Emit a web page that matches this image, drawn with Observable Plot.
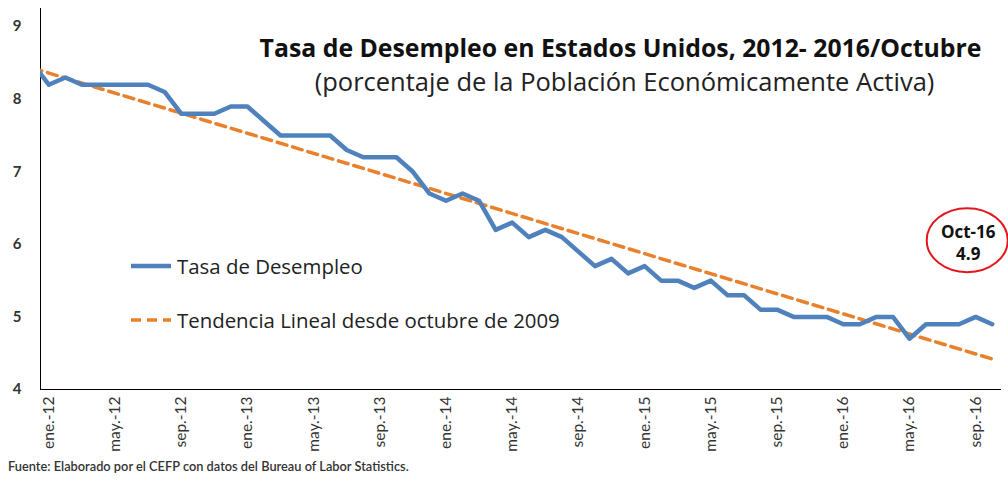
<!DOCTYPE html>
<html>
<head>
<meta charset="utf-8">
<script src="https://cdn.jsdelivr.net/npm/d3@7"></script>
<script src="https://cdn.jsdelivr.net/npm/@observablehq/plot@0.6"></script>
<style>
  html, body { margin: 0; padding: 0; background: #fff; }
  #wrap { position: relative; width: 1008px; height: 481px; font-family: Lato, "Open Sans", sans-serif; }
  #legend { position: absolute; left: 130px; top: 252px; font-size: 20.4px; color: #222; font-family: "Open Sans", sans-serif; }
  #legend div { display: flex; align-items: center; height: 28px; margin-bottom: 26px; }
  #legend svg { margin-right: 5px; }
  #footer { position: absolute; left: 8px; top: 458px; font-size: 12.8px; font-weight: 600; color: #333; }
  g[aria-label^="y-axis"] text { font-weight: 700; fill: #333; }
  g[aria-label^="x-axis"] text { fill: #333; }
  g[aria-label^="x-axis"] path, g[aria-label^="y-axis"] path { stroke: #a6a6a6; }
</style>
</head>
<body>
<div id="wrap">
  <div id="chart"></div>
  <div id="legend"></div>
  <div id="footer"></div>
</div>
<script>
// ---- data ----
const monthNames = ["ene.", "feb.", "mar.", "abr.", "may.", "jun.", "jul.", "ago.", "sep.", "oct.", "nov.", "dic."];
const firstMonth = "dic.-11"; // first value of the series (clipped at the left edge)
const rateValues = [
  8.5,
  8.2, 8.3, 8.2, 8.2, 8.2, 8.2, 8.2, 8.1, 7.8, 7.8, 7.8, 7.9,
  7.9, 7.7, 7.5, 7.5, 7.5, 7.5, 7.3, 7.2, 7.2, 7.2, 7.0, 6.7,
  6.6, 6.7, 6.6, 6.2, 6.3, 6.1, 6.2, 6.1, 5.9, 5.7, 5.8, 5.6,
  5.7, 5.5, 5.5, 5.4, 5.5, 5.3, 5.3, 5.1, 5.1, 5.0, 5.0, 5.0,
  4.9, 4.9, 5.0, 5.0, 4.7, 4.9, 4.9, 4.9, 5.0, 4.9
];
const trendMonths = ["dic.-11", "oct.-16"];
const trendValues = [8.43, 4.42];
const tickMonths = ["ene.-12", "may.-12", "sep.-12", "ene.-13", "may.-13", "sep.-13", "ene.-14", "may.-14",
  "sep.-14", "ene.-15", "may.-15", "sep.-15", "ene.-16", "may.-16", "sep.-16"];
const yTicks = [4, 5, 6, 7, 8, 9];
const title = "Tasa de Desempleo en Estados Unidos, 2012- 2016/Octubre";
const subtitle = "(porcentaje de la Población Económicamente Activa)";
const seriesName = "Tasa de Desempleo";
const trendName = "Tendencia Lineal desde octubre de 2009";
const annotationMonth = "Oct-16";
const source = "Fuente: Elaborado por el CEFP con datos del Bureau of Labor Statistics.";

// ---- build tables ----
const labels = rateValues.map((_, k) => {
  const m = 11 + k; // dic. 2011 = month 11 of 2011
  return monthNames[m % 12] + "-" + String(11 + Math.floor(m / 12)).padStart(2, "0");
});
const idx = new Map(labels.map((l, k) => [l, k - 1])); // ene.-12 -> 0
const series = rateValues.map((v, k) => ({i: k - 1, v, label: labels[k]}));
const trend = trendMonths.map((m, k) => ({i: idx.get(m), v: trendValues[k]}));
const last = series[series.length - 1];
const lastIdx = idx.get(labels[labels.length - 1]);

const blue = "#4f81bd";
const orange = "#e8802c";

// elliptical symbol for the annotation
const ellipse = {
  draw(ctx) {
    const rx = 40.5, ry = 32, k = 0.5523;
    ctx.moveTo(rx, 0);
    ctx.bezierCurveTo(rx, ry * k, rx * k, ry, 0, ry);
    ctx.bezierCurveTo(-rx * k, ry, -rx, ry * k, -rx, 0);
    ctx.bezierCurveTo(-rx, -ry * k, -rx * k, -ry, 0, -ry);
    ctx.bezierCurveTo(rx * k, -ry, rx, -ry * k, rx, 0);
    ctx.closePath();
  }
};

const chart = Plot.plot({
  width: 1008,
  height: 458,
  marginLeft: 40,
  marginRight: 8,
  marginTop: 8,
  marginBottom: 69,
  style: {fontFamily: "Lato, 'Open Sans', sans-serif", background: "#fff"},
  x: {
    domain: [-0.5, lastIdx + 0.5],
    ticks: tickMonths.map(m => idx.get(m)),
    tickFormat: i => labels[i + 1],
    tickRotate: -90,
    tickSize: 0,
    tickPadding: 7,
    line: true,
    label: null
  },
  y: {
    domain: [4, 9.25],
    ticks: yTicks,
    tickFormat: d3.format("d"),
    tickSize: 0,
    tickPadding: 19,
    line: true,
    label: null
  },
  marks: [
    Plot.line(trend, {x: "i", y: "v", stroke: orange, strokeWidth: 3.5, strokeDasharray: "10,6", clip: true}),
    Plot.line(series, {x: "i", y: "v", stroke: blue, strokeWidth: 4.5, strokeLinejoin: "round", clip: true}),
    Plot.text([title], {frameAnchor: "top", text: d => d, dx: 100, dy: 41, lineAnchor: "middle", fontSize: 24.8, fontWeight: 700, fill: "#111", fontFamily: "Open Sans"}),
    Plot.text([subtitle], {frameAnchor: "top", text: d => d, dx: 104, dy: 74, lineAnchor: "middle", fontSize: 25.5, fill: "#222", fontFamily: "Open Sans"}),
    Plot.dot([last], {x: "i", y: "v", symbol: ellipse, r: 10, stroke: "#e3161f", strokeWidth: 2, fill: "none", dx: -25, dy: -84}),
    Plot.text([last], {x: "i", y: "v", text: d => annotationMonth + "\n" + d3.format(".1f")(d.v), dx: -24, dy: -82, lineAnchor: "middle", lineHeight: 1.25, fontSize: 17, fontWeight: 700, fill: "#111", fontFamily: "Open Sans"})
  ]
});
document.getElementById("chart").appendChild(chart);
chart.querySelectorAll('g[aria-label^="x-axis"] text').forEach(t => t.setAttribute("font-size", 15.5));
chart.querySelectorAll('g[aria-label^="y-axis"] text').forEach(t => t.setAttribute("font-size", 15));

// legend
const legend = document.getElementById("legend");
legend.innerHTML =
  `<div><svg width="42" height="8"><line x1="1" x2="41" y1="4" y2="4" stroke="${blue}" stroke-width="4.5"/></svg><span>${seriesName}</span></div>` +
  `<div><svg width="42" height="8"><line x1="1" x2="41" y1="4" y2="4" stroke="${orange}" stroke-width="3.5" stroke-dasharray="10,6"/></svg><span>${trendName}</span></div>`;
document.getElementById("footer").textContent = source;
</script>
</body>
</html>
